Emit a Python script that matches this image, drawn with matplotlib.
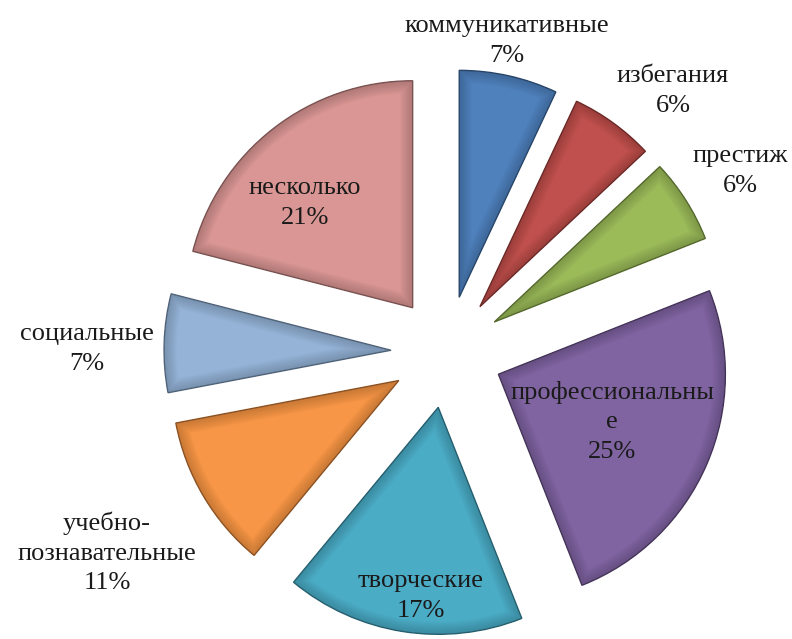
import matplotlib.pyplot as plt
import matplotlib.colors as mcolors
from matplotlib.patches import Wedge
import numpy as np

plt.rcParams['font.family'] = ['Liberation Serif', 'DejaVu Serif']

# мотивы, по часовой стрелке от 12 часов
categories = ['коммуникативные', 'избегания', 'престиж', 'профессиональные',
              'творческие', 'учебно-познавательные', 'социальные', 'несколько']
shares = [7, 6, 6, 25, 17, 11, 7, 21]
label_text = ['коммуникативные', 'избегания', 'престиж', 'профессиональны\nе',
              'творческие', 'учебно-\nпознавательные', 'социальные', 'несколько']

colors = ['#4f81bd', '#c0504d', '#9bbb59', '#8064a2',
          '#4bacc6', '#f79646', '#95b3d7', '#d99694']
# где стоят подписи (в пикселях, от верхнего левого угла)
label_pos = [(507, 41), (673, 91), (740, 171), (612, 422),
             (421, 596), (107, 553), (87, 349), (305, 203)]

W, H = 792, 639
fig = plt.figure(figsize=(W / 100, H / 100), dpi=100)
ax = fig.add_axes([0, 0, 1, 1])

R = 227
wedges, _ = ax.pie(shares, radius=R, center=(447, H - 352),
                   explode=[56] * len(shares), startangle=90,
                   counterclock=False, colors=colors,
                   wedgeprops=dict(linewidth=1.0))

# объём как у фигуры с фаской: плавно темнеющий край внутри сектора
for w, c in zip(wedges, colors):
    rgb = np.array(mcolors.to_rgb(c))
    w.set_edgecolor(rgb * 0.6)
    for lw in range(18, 1, -2):
        rim = Wedge(w.center, w.r, w.theta1, w.theta2, fill=False,
                    edgecolor=rgb * 0.5, linewidth=lw, alpha=0.045)
        ax.add_patch(rim)
        rim.set_clip_path(w)

# pie() выставляет свои пределы, поэтому задаём их после
ax.set_xlim(0, W)
ax.set_ylim(0, H)
ax.set_aspect('equal')
ax.axis('off')

for txt, v, (x, y) in zip(label_text, shares, label_pos):
    ax.text(x, H - y, f'{txt}\n{v}%', ha='center', va='center',
            fontsize=19, color='#1a1a1a', linespacing=1.45)

fig.savefig('out.png', dpi=100)
